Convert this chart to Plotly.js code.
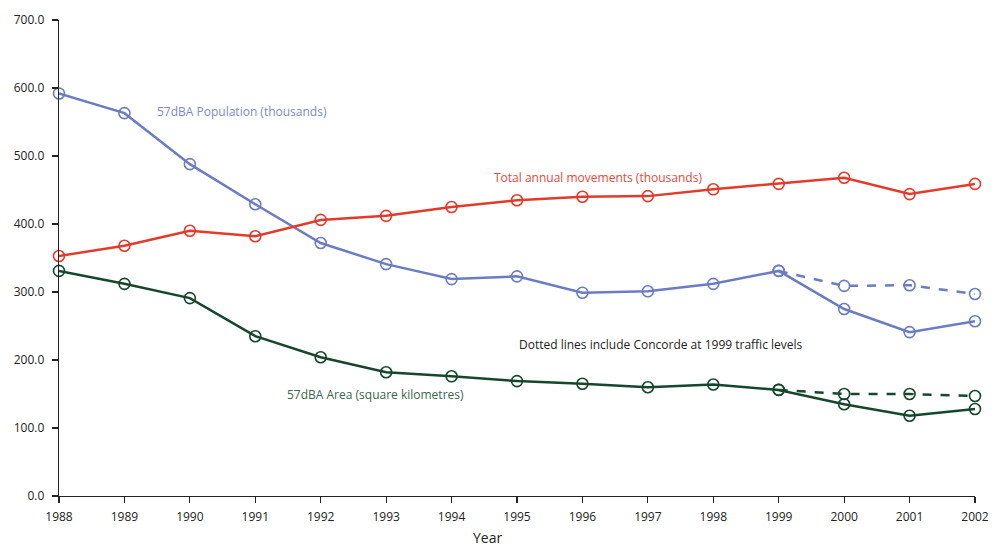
<!DOCTYPE html>
<html><head><meta charset="utf-8">
<script src="https://cdn.plot.ly/plotly-3.0.1.min.js"></script>
<style>html,body{margin:0;padding:0;background:#fff}#chart{width:1001px;height:547px}</style>
</head><body><div id="chart"></div>
<script>
const years = [1988,1989,1990,1991,1992,1993,1994,1995,1996,1997,1998,1999,2000,2001,2002];
const population = [592,563,488,429,372,341,319,323,299,301,312,331,275,241,257];
const movements = [353,368,390,382,406,412,425,435,440,441,451,459,468,444,459];
const area = [331,312,291,235,204,182,176,169,165,160,164,156,135,118,128];
const concordeYears = [1999,2000,2001,2002];
const populationConcorde = [331,309,310,297];
const areaConcorde = [156,150,150,147];

const BLUE = '#6b7cc2', RED = '#e23b2b', GREEN = '#16472d';
const font = 'Open Sans, Noto Sans, sans-serif';
function line(x, y, color, dash) {
  return {x, y, type:'scatter', mode:'lines+markers', cliponaxis:false,
    line:{color, width:2.5, dash: dash ? 'dash' : 'solid'},
    marker:{symbol:'circle-open', size:11, color, line:{width:1.6, color}},
    showlegend:false, hoverinfo:'x+y'};
}
const data = [
  line(concordeYears, populationConcorde, BLUE, true),
  line(concordeYears, areaConcorde, GREEN, true),
  line(years, population, BLUE, false),
  line(years, movements, RED, false),
  line(years, area, GREEN, false)
];
const layout = {
  width:1001, height:547,
  margin:{l:59, r:26, t:20, b:51},
  paper_bgcolor:'#fff', plot_bgcolor:'#fff',
  font:{family:font, size:12, color:'#222'},
  xaxis:{range:[1988,2002], tickvals:years, ticktext:years.map(String),
    showgrid:false, zeroline:false, showline:true, linecolor:'#222', linewidth:1.3,
    ticks:'outside', ticklen:6, tickcolor:'#222', tickwidth:1.2, ticklabelstandoff:3,
    tickfont:{size:12, color:'#222'}},
  yaxis:{range:[0,700], tickvals:[0,100,200,300,400,500,600,700],
    ticktext:['0.0','100.0','200.0','300.0','400.0','500.0','600.0','700.0'],
    showgrid:false, zeroline:false, showline:true, linecolor:'#222', linewidth:1.3,
    ticks:'outside', ticklen:6, tickcolor:'#222', tickwidth:1.2, ticklabelstandoff:5,
    tickfont:{size:12, color:'#222'}},
  annotations:[
    {x:0, y:0, xref:'paper', yref:'paper', text:'Year', showarrow:false, xanchor:'center', yanchor:'middle', borderpad:0, font:{size:14, color:'#222'}},
    {x:1989.47, y:566, xref:'x', yref:'y', text:'57dBA Population (thousands)', showarrow:false, xanchor:'left', yanchor:'middle', font:{size:12, color:'#7b89c9'}},
    {x:1994.62, y:468, xref:'x', yref:'y', text:'Total annual movements (thousands)', showarrow:false, xanchor:'left', yanchor:'middle', font:{size:12, color:'#e4493a'}},
    {x:1995.0, y:223.5, xref:'x', yref:'y', text:'Dotted lines include Concorde at 1999 traffic levels', showarrow:false, xanchor:'left', yanchor:'middle', font:{size:12, color:'#222'}},
    {x:1991.45, y:150, xref:'x', yref:'y', text:'57dBA Area (square kilometres)', showarrow:false, xanchor:'left', yanchor:'middle', font:{size:12, color:'#3b6650'}}
  ]
};
// convert Year label pixel position to paper coords
const pw = 1001 - 59 - 26, ph = 547 - 20 - 51;
layout.annotations[0].x = (487 - 59) / pw;
layout.annotations[0].y = (547 - 51 - 537) / ph;
Plotly.newPlot('chart', data, layout, {displayModeBar:false, staticPlot:true});
</script></body></html>
